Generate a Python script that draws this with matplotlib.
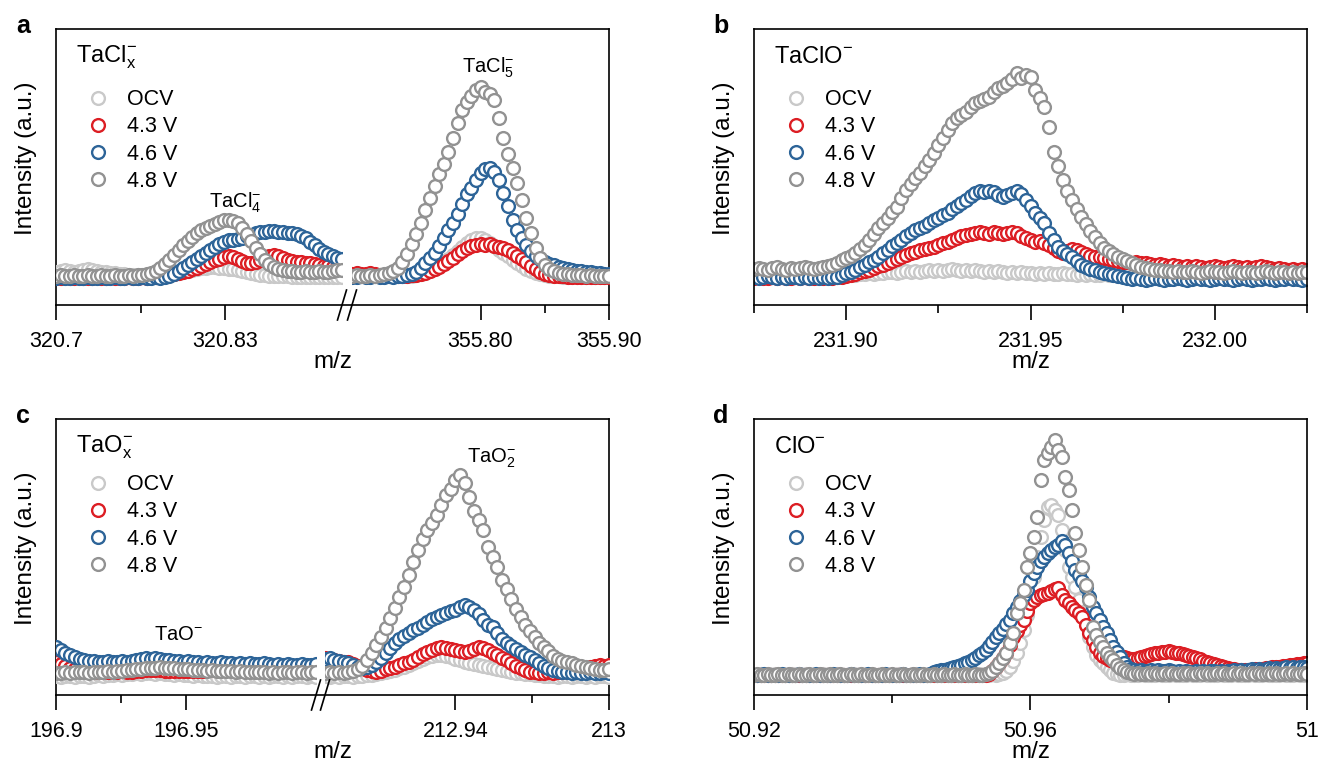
import numpy as np
import matplotlib
matplotlib.use('Agg')
import matplotlib.pyplot as plt
from matplotlib.lines import Line2D

plt.rcParams['font.family'] = ['Liberation Sans', 'DejaVu Sans']
plt.rcParams['mathtext.fontset'] = 'custom'
plt.rcParams['mathtext.rm'] = 'Liberation Sans'
plt.rcParams['mathtext.it'] = 'Liberation Sans:italic'
plt.rcParams['mathtext.bf'] = 'Liberation Sans:bold'

labels = ['OCV', '4.3 V', '4.6 V', '4.8 V']
colors = ['#c9c9c9', '#dc1e24', '#2d6498', '#929292']

# ---- panel a : TaClx- (two m/z windows) ----
a_left_mz = (320.70, 320.92)
a_right_mz = (355.70, 355.90)
a_l_ocv = [6, 7, 8, 7, 6, 7, 8, 9, 8, 7, 6, 6, 5, 5, 4, 4, 3, 3, 3, 2,
           2, 2, 2, 3, 3, 4, 4, 5, 6, 7, 8, 9, 10, 10, 11, 11, 10, 10, 9, 9,
           8, 7, 6, 5, 4, 3, 3, 2, 2, 2, 2, 2, 1, 1, 1, 1, 1, 1, 1, 1, 1, 1, 1, 1]
a_l_43 = [0, 0, 1, 0, 0, 1, 0, 0, 0, 1, 0, 0, 1, 0, 0, 0, 1, 0, 0, 1,
          0, 1, 1, 2, 2, 3, 4, 5, 6, 7, 9, 10, 12, 14, 16, 18, 19, 21, 22, 21,
          19, 17, 15, 15, 16, 18, 20, 22, 23, 22, 20, 18, 17, 16, 16, 15, 15, 14, 13, 12,
          12, 11, 11, 10]
a_l_46 = [0, 1, 0, 0, 1, 0, 0, 1, 0, 0, 1, 0, 0, 1, 0, 0, 1, 0, 0, 1,
          0, 0, 1, 0, 1, 2, 4, 7, 10, 13, 16, 19, 22, 25, 28, 31, 34, 36, 38, 38,
          39, 40, 42, 43, 45, 46, 46, 47, 47, 46, 46, 45, 45, 44, 42, 40, 36, 33, 29, 26,
          24, 22, 20, 19]
a_l_48 = [2, 3, 2, 2, 3, 2, 2, 3, 2, 2, 3, 2, 2, 3, 2, 2, 3, 2, 3, 3,
          4, 5, 7, 10, 14, 18, 23, 28, 33, 37, 41, 45, 48, 50, 52, 54, 56, 58, 58, 57,
          55, 50, 44, 37, 30, 24, 18, 14, 11, 9, 8, 7, 7, 6, 6, 7, 6, 6, 7, 6,
          6, 7, 8, 8]
a_r_ocv = [3, 4, 3, 3, 4, 3, 3, 2, 2, 2, 3, 2, 2, 2, 3, 4, 5, 7, 9, 12,
           15, 19, 23, 27, 31, 35, 38, 40, 40, 38, 35, 32, 28, 25, 22, 18, 15, 12, 9, 7,
           5, 4, 3, 2, 2, 2, 1, 1, 2, 1, 1, 1, 1, 1, 1, 1, 1]
a_r_43 = [4, 5, 4, 4, 5, 4, 3, 3, 3, 2, 2, 2, 2, 3, 3, 4, 5, 7, 9, 11,
          14, 17, 20, 24, 27, 30, 32, 33, 34, 33, 34, 32, 31, 30, 28, 25, 22, 19, 16, 12,
          9, 6, 4, 3, 2, 2, 2, 1, 1, 1, 1, 1, 1, 1, 1, 1, 1]
a_r_46 = [1, 1, 2, 1, 1, 2, 1, 1, 2, 1, 2, 2, 3, 4, 6, 10, 15, 20, 25, 32,
          40, 48, 55, 64, 74, 84, 90, 98, 105, 109, 110, 106, 98, 85, 72, 58, 48, 40, 33, 27,
          22, 19, 16, 14, 13, 11, 10, 9, 8, 7, 7, 6, 6, 5, 5, 4, 4]
a_r_48 = [2, 3, 2, 2, 3, 2, 3, 4, 5, 7, 10, 16, 24, 34, 44, 55, 68, 80, 92, 104,
          114, 126, 140, 155, 168, 176, 182, 188, 191, 186, 184, 178, 160, 140, 124, 110, 95, 78, 60, 45,
          30, 20, 13, 9, 7, 5, 4, 4, 3, 3, 3, 2, 3, 2, 2, 2, 2]

# ---- panel b : TaClO- ----
b_mz = (231.875, 232.025)
b_ocv = [2, 3, 2, 3, 2, 2, 3, 2, 3, 2, 3, 2, 2, 3, 3, 2, 3, 3, 2, 3,
         3, 4, 3, 4, 4, 5, 4, 5, 5, 6, 6, 5, 6, 7, 6, 7, 6, 7, 8, 7,
         8, 7, 8, 9, 8, 7, 8, 7, 8, 7, 6, 7, 6, 7, 6, 5, 6, 5, 6, 5,
         5, 4, 5, 4, 5, 4, 4, 5, 4, 4, 3, 4, 3, 4, 3, 3, 4, 3, 3, 2,
         3, 3, 2, 3, 2, 2, 3, 2, 2, 3, 2, 2, 3, 2, 2, 3, 2, 2, 3, 2,
         2, 2, 3, 2, 2, 2, 3, 2, 2, 2, 3, 2, 2, 2, 3, 2, 2, 2, 3, 2, 2]
b_43 = [0, 1, 0, 0, 1, 0, 1, 0, 0, 1, 0, 1, 0, 0, 1, 0, 1, 0, 1, 1,
        2, 3, 4, 6, 7, 8, 10, 12, 13, 15, 17, 19, 21, 23, 25, 26, 28, 29, 30, 31,
        33, 35, 36, 38, 40, 42, 43, 44, 45, 46, 45, 44, 46, 45, 44, 45, 46, 45, 42, 40,
        38, 36, 37, 35, 33, 30, 27, 25, 27, 29, 28, 26, 24, 22, 21, 21, 20, 19, 18, 17,
        16, 16, 15, 16, 15, 15, 14, 13, 14, 13, 12, 13, 12, 11, 12, 11, 12, 11, 10, 11,
        12, 11, 10, 11, 12, 11, 10, 11, 10, 11, 12, 11, 10, 9, 10, 9, 8, 9, 8, 9, 8]
b_46 = [1, 0, 1, 2, 1, 0, 1, 0, 1, 1, 0, 1, 0, 1, 0, 1, 0, 1, 1, 3,
        5, 6, 8, 11, 13, 16, 18, 21, 25, 28, 32, 35, 38, 42, 45, 48, 50, 52, 55, 58,
        60, 63, 65, 69, 72, 75, 78, 82, 85, 87, 86, 87, 86, 83, 81, 83, 85, 87, 84, 78,
        72, 65, 60, 55, 45, 38, 31, 27, 24, 21, 17, 13, 11, 9, 8, 6, 5, 4, 3, 2,
        1, 0, -1, 0, -1, -2, -1, 0, -1, -2, -1, -1, 0, -1, -2, -1, 0, -1, -1, -2,
        -1, 0, -1, -1, -2, -1, 0, -1, -2, -1, -1, 0, -1, -2, -1, -1, 0, -1, -1, -2, -1]
b_48 = [9, 10, 9, 8, 10, 11, 9, 8, 10, 9, 10, 11, 10, 9, 10, 11, 12, 13, 15, 18,
        20, 22, 25, 29, 33, 38, 44, 50, 55, 60, 66, 71, 80, 88, 94, 100, 105, 112, 118, 125,
        133, 140, 148, 155, 160, 163, 166, 171, 175, 177, 179, 181, 186, 190, 192, 195, 199, 205, 200, 203,
        201, 188, 180, 171, 151, 126, 112, 98, 87, 78, 69, 61, 54, 47, 41, 35, 30, 27, 24, 21,
        19, 17, 15, 13, 11, 10, 9, 8, 8, 7, 7, 6, 7, 6, 6, 7, 6, 5, 6, 7,
        6, 6, 5, 6, 7, 6, 5, 6, 6, 5, 6, 7, 6, 5, 6, 6, 5, 6, 5, 6, 6]

# ---- panel c : TaOx- (two m/z windows) ----
c_left_mz = (196.90, 197.00)
c_right_mz = (212.889, 213.00)
c_l_ocv = [-1, -2, -1, -1, -2, -1, -1, -2, -1, 0, -1, 0, 0, 1, 0, 1, 1, 2, 1, 2,
           2, 1, 2, 1, 1, 0, 1, 0, 0, -1, 0, -1, -1, -1, -2, -1, -1, -2, -1, -1,
           -2, -1, -1, -2, -1, -2, -1, -1, -2, -1, -2, -1, -1, -2, -1, -2]
c_l_43 = [13, 11, 9, 7, 6, 5, 4, 4, 3, 3, 3, 3, 3, 3, 4, 3, 3, 4, 4, 5,
          5, 5, 5, 4, 4, 4, 4, 4, 4, 4, 4, 4, 5, 5, 5, 5, 5, 6, 6, 6,
          7, 7, 7, 8, 8, 8, 9, 9, 9, 8, 8, 8, 7, 7, 7, 7]
c_l_46 = [28, 25, 22, 20, 18, 16, 15, 14, 14, 13, 13, 14, 13, 13, 14, 13, 14, 15, 16, 17,
          16, 17, 16, 15, 15, 14, 14, 13, 14, 13, 13, 12, 13, 12, 12, 13, 12, 12, 11, 12,
          11, 12, 11, 11, 12, 11, 10, 11, 10, 11, 10, 10, 11, 10, 10, 11]
c_l_48 = [2, 2, 3, 2, 3, 3, 3, 2, 3, 3, 3, 4, 3, 4, 4, 5, 5, 6, 6, 7,
          7, 7, 8, 7, 7, 7, 6, 6, 6, 5, 5, 5, 4, 5, 4, 4, 4, 4, 3, 4,
          3, 3, 3, 3, 3, 2, 3, 2, 3, 3, 2, 3, 3, 2, 3, 3]
c_r_ocv = [-1, -2, -1, -2, -1, -1, -2, -1, -1, 0, 0, 1, 2, 3, 4, 5, 7, 8, 10, 12,
           14, 16, 18, 19, 20, 20, 19, 18, 16, 15, 13, 12, 11, 10, 9, 8, 7, 6, 5, 4,
           3, 2, 2, 1, 1, 0, 0, -1, -1, -1, -2, -1, -1, -2, -1, -1, -2, -1, -2, -1, -1, -2]
c_r_43 = [17, 16, 15, 14, 13, 13, 11, 9, 7, 5, 4, 3, 4, 6, 7, 8, 10, 12, 13, 15,
          18, 21, 23, 25, 27, 28, 27, 26, 25, 24, 23, 24, 26, 28, 27, 25, 22, 20, 17, 15,
          12, 9, 7, 5, 3, 3, 2, 2, 3, 2, 3, 3, 4, 4, 5, 6, 7, 8, 9, 10, 9, 10]
c_r_46 = [16, 17, 15, 14, 13, 12, 10, 8, 7, 8, 10, 13, 17, 22, 27, 32, 36, 39, 42, 45,
          47, 50, 53, 56, 58, 60, 62, 64, 65, 68, 70, 68, 65, 61, 55, 50, 48, 42, 36, 32,
          29, 26, 23, 20, 18, 15, 12, 9, 7, 5, 4, 3, 3, 2, 3, 2, 2, 3, 2, 2, 3, 2]
c_r_48 = [2, 3, 2, 3, 2, 3, 4, 6, 9, 15, 22, 30, 38, 47, 57, 67, 78, 88, 100, 113,
          125, 136, 145, 152, 160, 170, 180, 186, 195, 200, 192, 178, 164, 155, 145, 128, 118, 108, 95, 86,
          76, 66, 58, 50, 44, 38, 32, 28, 24, 19, 16, 14, 13, 12, 10, 9, 8, 7, 6, 5, 5, 6]

# ---- panel d : ClO- ----
d_mz = (50.92, 51.00)
d_ocv = [0, 0, 1, 0, 0, 0, 1, 0, 0, 0, 0, 1, 0, 0, 0, 1, 0, 0, 0, 0,
         1, 0, 0, 0, 1, 0, 0, 0, 0, 1, 0, 0, 0, 1, 0, 0, 0, 0, 1, 0,
         0, 0, 1, 0, 0, 0, 0, 1, 0, 0, 0, 1, 0, 0, 0, 0, 1, 0, 0, 0,
         1, 0, 0, 0, 0, 1, 0, 0, 0, 1, 0, 1, 2, 4, 8, 14, 22, 32, 45, 60,
         78, 98, 118, 138, 155, 168, 170, 165, 160, 145, 125, 108, 98, 88, 75, 62, 50, 38, 28, 20,
         15, 12, 8, 5, 2, 1, 0, 0, 1, 0, 0, 0, 1, 0, 0, 0, 0, 1, 0, 0,
         0, 1, 0, 0, 0, 0, 1, 0, 0, 0, 1, 0, 0, 0, 0, 1, 0, 0, 0, 1,
         0, 0, 0, 0, 1, 0, 0, 0, 1, 0, 0, 0, 0, 1, 0, 0, 0, 1, 0, 0, 0]
d_43 = [0, 0, 0, 0, 0, 0, 0, 0, 0, 0, 0, 0, 0, 0, 0, 0, 0, 0, 0, 0,
        0, 0, 0, 0, 0, 0, 0, 0, 0, 0, 0, 0, 0, 0, 0, 0, 0, 0, 0, 0,
        0, 0, 0, 0, 0, 0, 0, 0, 0, 0, 0, 0, 0, 0, 0, 0, 0, 0, 0, 0,
        0, 0, 0, 0, 0, 0, 0, 0, 1, 4, 8, 12, 17, 22, 30, 38, 44, 50, 55, 64,
        72, 75, 78, 80, 81, 82, 84, 86, 87, 80, 75, 72, 68, 65, 62, 58, 50, 42, 35, 28,
        22, 19, 17, 15, 15, 16, 17, 18, 17, 16, 16, 17, 18, 19, 20, 21, 22, 22, 23, 23,
        24, 23, 22, 22, 21, 20, 19, 18, 17, 16, 14, 13, 12, 11, 10, 9, 8, 7, 6, 6,
        5, 5, 5, 5, 5, 6, 6, 6, 7, 7, 8, 8, 8, 9, 9, 10, 10, 11, 11, 12, 12]
d_46 = [0, 0, 0, 1, 0, 0, 0, 0, 1, 0, 0, 0, 0, 1, 0, 0, 0, 0, 1, 0,
        0, 0, 0, 1, 0, 0, 0, 0, 1, 0, 0, 0, 0, 1, 0, 0, 0, 0, 1, 0,
        0, 0, 0, 1, 0, 0, 0, 0, 1, 0, 0, 1, 3, 4, 5, 5, 6, 7, 8, 9,
        10, 12, 13, 15, 17, 20, 22, 25, 29, 33, 38, 42, 46, 51, 55, 62, 68, 74, 80, 85,
        94, 102, 108, 114, 118, 122, 125, 128, 130, 134, 130, 122, 114, 105, 100, 94, 88, 78, 68, 62,
        55, 48, 42, 35, 28, 23, 18, 12, 8, 6, 5, 4, 5, 4, 4, 5, 4, 5, 4, 4,
        5, 4, 3, 4, 3, 4, 3, 3, 4, 3, 4, 3, 4, 4, 3, 4, 3, 4, 4, 5,
        4, 5, 4, 5, 6, 5, 6, 5, 6, 7, 6, 7, 6, 7, 8, 7, 8, 7, 8, 8, 7]
d_48 = [0, 1, 0, 0, 1, 0, 0, 1, 0, 0, 1, 0, 0, 1, 0, 0, 1, 0, 0, 1,
        0, 0, 1, 0, 0, 1, 0, 0, 1, 0, 0, 1, 0, 0, 1, 0, 0, 1, 0, 0,
        1, 0, 0, 1, 0, 0, 1, 0, 0, 1, 0, 0, 1, 0, 0, 1, 0, 0, 1, 0,
        0, 1, 0, 0, 1, 0, 0, 1, 2, 4, 8, 12, 17, 22, 32, 42, 62, 72, 85, 108,
        122, 138, 158, 195, 215, 222, 228, 235, 225, 218, 198, 185, 165, 142, 125, 108, 90, 75, 48, 40,
        33, 28, 22, 18, 15, 10, 7, 5, 3, 2, 1, 2, 1, 1, 2, 1, 2, 1, 1, 2,
        1, 2, 1, 1, 2, 1, 2, 1, 1, 2, 1, 2, 1, 1, 2, 1, 2, 1, 1, 2,
        1, 2, 1, 1, 2, 1, 2, 1, 1, 2, 1, 2, 1, 1, 2, 1, 2, 1, 1, 2, 1]

W, H = 1321, 764
TOP_YLIM = (-27, 249)
BOT_YLIM = (-20, 256)
MS, MEW = 9.2, 1.7


def rect(x0, x1, y0, y1):
    return [x0 / W, 1 - y1 / H, (x1 - x0) / W, (y1 - y0) / H]


def draw(ax, mz, series):
    for y, c in zip(series, colors):
        x = np.linspace(mz[0], mz[1], len(y))
        ax.plot(x, y, ls='none', marker='o', ms=MS, mfc='white', mec=c, mew=MEW)
    ax.set_xlim(*mz)


def ticks(ax, major, major_lab, minor):
    ax.set_xticks(major)
    ax.set_xticklabels(major_lab)
    ax.set_xticks(minor, minor=True)
    ax.set_yticks([])
    ax.tick_params(axis='x', which='major', direction='out', length=10.5, width=1.2,
                   pad=8, labelsize=15.5)
    ax.tick_params(axis='x', which='minor', direction='out', length=5.5, width=1.2)


def frame(r, ylim, title, leg_y, letter):
    ax = fig.add_axes(r)
    ax.set_ylim(*ylim)
    for s in ax.spines.values():
        s.set_linewidth(1.2)
    ax.set_yticks([])
    ax.set_xticks([])
    ax.set_ylabel('Intensity (a.u.)', fontsize=17.5)
    ax.yaxis.set_label_coords(-0.035, 0.53)
    ax.set_xlabel('m/z', fontsize=17.5)
    ax.xaxis.set_label_coords(0.5, -0.168)
    ax.text(0.036, 0.877, title, transform=ax.transAxes, fontsize=17,
            ha='left', va='baseline')
    handles = [Line2D([], [], ls='none', marker='o', ms=MS, mfc='white', mec=c, mew=MEW)
               for c in colors]
    ax.legend(handles, labels, loc='upper left', bbox_to_anchor=(0.06, leg_y),
              frameon=False, fontsize=15.5, handlelength=0.8, handletextpad=0.95,
              labelspacing=0.29, borderpad=0, borderaxespad=0)
    pos = ax.get_position()
    fig.text(pos.x0 - 33 / W, pos.y1 + 3 / H, letter, fontsize=18, weight='bold',
             ha='center', va='center')
    return ax


def inner(r, ylim):
    ax = fig.add_axes(r)
    ax.set_ylim(*ylim)
    ax.patch.set_visible(False)
    for s in ax.spines.values():
        s.set_visible(False)
    return ax


def slashes(ax_l, ax_r):
    y = ax_l.get_position().y0
    for x in (ax_l.get_position().x1, ax_r.get_position().x0):
        fig.add_artist(Line2D([x + 4.5 / W, x - 4.5 / W], [y + 15 / H, y - 15 / H],
                              color='black', lw=1.2, transform=fig.transFigure))


fig = plt.figure(figsize=(13.21, 7.64), dpi=100)

# a
fa = frame(rect(56, 609, 29, 305), TOP_YLIM, r'TaCl$_\mathregular{x}^\mathregular{-}$', 0.782, 'a')
al = inner(rect(56, 342, 29, 305), TOP_YLIM)
ar = inner(rect(352, 609, 29, 305), TOP_YLIM)
draw(al, a_left_mz, [a_l_ocv, a_l_43, a_l_46, a_l_48])
draw(ar, a_right_mz, [a_r_ocv, a_r_43, a_r_46, a_r_48])
ticks(al, [320.7, 320.83], ['320.7', '320.83'], [320.765])
ticks(ar, [355.80, 355.90], ['355.80', '355.90'], [355.85])
al.text(320.838, 75, r'TaCl$_\mathregular{4}^\mathregular{-}$', fontsize=14.5, ha='center', va='center')
ar.text(355.806, 210, r'TaCl$_\mathregular{5}^\mathregular{-}$', fontsize=14.5, ha='center', va='center')
slashes(al, ar)

# b
fb = frame(rect(754, 1307, 29, 305), TOP_YLIM, r'TaClO$^\mathregular{-}$', 0.782, 'b')
draw(fb, b_mz, [b_ocv, b_43, b_46, b_48])
ticks(fb, [231.90, 231.95, 232.00], ['231.90', '231.95', '232.00'],
      [231.875, 231.925, 231.975, 232.025])

# c
fc = frame(rect(56, 609, 419, 695), BOT_YLIM, r'TaO$_\mathregular{x}^\mathregular{-}$', 0.80, 'c')
cl = inner(rect(56, 316, 419, 695), BOT_YLIM)
cr = inner(rect(325, 609, 419, 695), BOT_YLIM)
draw(cl, c_left_mz, [c_l_ocv, c_l_43, c_l_46, c_l_48])
draw(cr, c_right_mz, [c_r_ocv, c_r_43, c_r_46, c_r_48])
ticks(cl, [196.9, 196.95], ['196.9', '196.95'], [196.925])
ticks(cr, [212.94, 213.0], ['212.94', '213'], [212.97])
cl.text(196.947, 40, r'TaO$^\mathregular{-}$', fontsize=14.5, ha='center', va='center')
cr.text(212.954, 217, r'TaO$_\mathregular{2}^\mathregular{-}$', fontsize=14.5, ha='center', va='center')
slashes(cl, cr)

# d
fd = frame(rect(754, 1307, 419, 695), BOT_YLIM, r'ClO$^\mathregular{-}$', 0.80, 'd')
draw(fd, d_mz, [d_ocv, d_43, d_46, d_48])
ticks(fd, [50.92, 50.96, 51.0], ['50.92', '50.96', '51'], [50.94, 50.98])

fig.savefig('out.png', dpi=100)
